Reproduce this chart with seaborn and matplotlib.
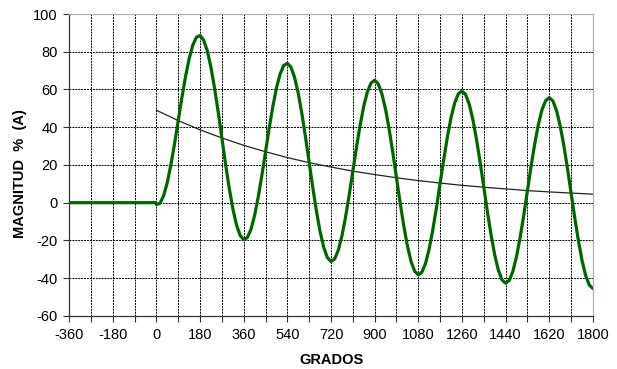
#grafico de corriente de energizacion con componente DC
import seaborn as sns
import matplotlib.pyplot as plt
from matplotlib.ticker import MultipleLocator

#tramo previo (corriente nula) desde -360
grados_pre = [-360, -5]
corriente_pre = [0, 0]

#corriente total, cada 15 grados desde 0 hasta 1800
grados = list(range(0, 1801, 15))
corriente = [
    -1.0, -0.3, 3.8, 10.8, 20.3, 31.4, 43.5,
    55.6, 66.8, 76.3, 83.5, 87.7, 88.6,
    86.1, 80.4, 71.7, 60.6, 47.9, 34.3,
    20.6, 7.9, -3.1, -11.7, -17.3, -19.6,
    -18.5, -14.1, -6.7, 3.1, 14.6, 27.0,
    39.4, 50.9, 60.8, 68.2, 72.7, 73.9,
    71.8, 66.3, 57.9, 47.1, 34.6, 21.2,
    7.9, -4.6, -15.4, -23.7, -29.1, -31.2,
    -29.8, -25.2, -17.6, -7.6, 4.1, 16.7,
    29.3, 41.1, 51.1, 58.8, 63.4, 64.9,
    62.9, 57.6, 49.4, 38.7, 26.4, 13.2,
    0.0, -12.3, -22.9, -31.1, -36.4, -38.3,
    -36.8, -32.1, -24.3, -14.2, -2.4, 10.4,
    23.1, 35.0, 45.1, 52.9, 57.7, 59.2,
    57.3, 52.2, 44.0, 33.5, 21.3, 8.2,
    -4.9, -17.1, -27.7, -35.8, -40.9, -42.7,
    -41.2, -36.3, -28.5, -18.3, -6.4, 6.4,
    19.3, 31.2, 41.4, 49.3, 54.1, 55.7,
    53.9, 48.8, 40.7, 30.3, 18.1, 5.1,
    -8.0, -20.1, -30.6, -38.6, -43.7, -45.5,
]

#componente DC, cada 90 grados
grados_dc = list(range(0, 1801, 90))
componente_dc = [49.0, 43.5, 38.6, 34.3, 30.4, 27.0, 23.9, 21.2, 18.9, 16.7,
                 14.9, 13.2, 11.7, 10.4, 9.2, 8.2, 7.3, 6.4, 5.7, 5.1, 4.5]

sns.set_style("white")
plt.rcParams['font.family'] = ['Liberation Sans', 'DejaVu Sans']
plt.rcParams['axes.unicode_minus'] = False

fig = plt.figure(figsize=(6.17, 3.69), dpi=100)
ax = fig.add_axes([0.112, 0.144, 0.849, 0.818])

ax.grid(True, which='both', color='black', linestyle=(0, (2, 1)), linewidth=0.7)
ax.set_axisbelow(True)

sns.lineplot(x=grados_dc, y=componente_dc, ax=ax, sort=False,
             color='#222222', linewidth=0.9)
sns.lineplot(x=grados_pre + grados, y=corriente_pre + corriente, ax=ax,
             sort=False, color='#006600', linewidth=2.3)

ax.set_xlim(-360, 1800)
ax.set_ylim(-60, 100)
ax.xaxis.set_major_locator(MultipleLocator(180))
ax.xaxis.set_minor_locator(MultipleLocator(90))
ax.yaxis.set_major_locator(MultipleLocator(20))
ax.grid(False, which='minor', axis='y')

ax.tick_params(axis='both', which='both', direction='out', length=4,
               width=0.8, color='#333333', labelsize=10.5, labelcolor='black')
ax.tick_params(axis='x', which='both', pad=5)
ax.tick_params(axis='y', pad=4)
ax.tick_params(left=True, bottom=True)
ax.tick_params(axis='x', which='minor', bottom=True)
ax.tick_params(axis='y', which='minor', left=False)

for lado in ['top', 'right']:
    ax.spines[lado].set_color('#b0b0b0')
for lado in ['left', 'bottom']:
    ax.spines[lado].set_color('#333333')
for s in ax.spines.values():
    s.set_linewidth(0.9)

ax.set_xlabel("GRADOS", fontsize=10.5, fontweight='bold', labelpad=8, color='black')
ax.set_ylabel("MAGNITUD  %  (A)", fontsize=10.5, fontweight='bold', color='black')
ax.yaxis.set_label_coords(-0.080, 0.47)

plt.savefig("out.png", dpi=100)
